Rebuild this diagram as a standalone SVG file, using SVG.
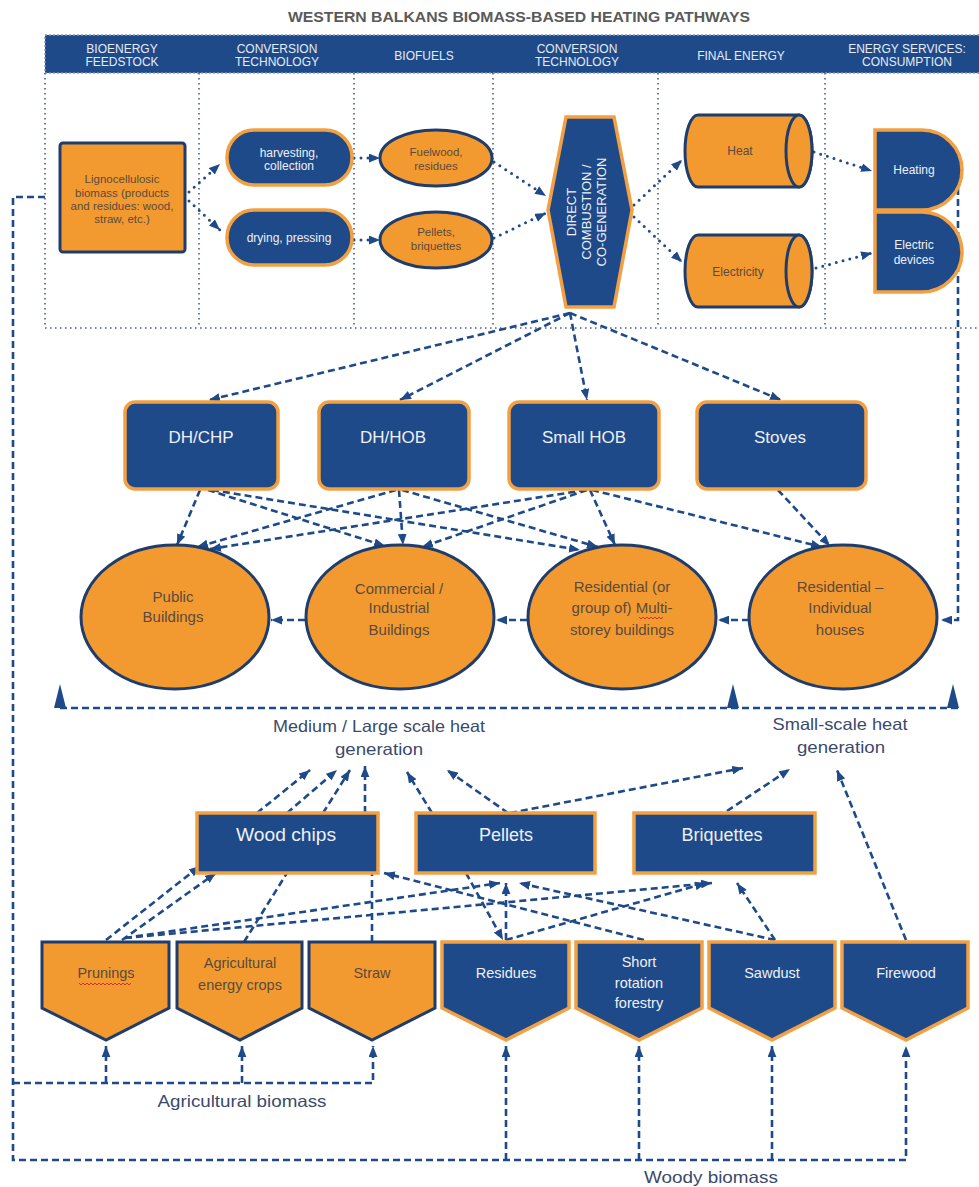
<svg xmlns="http://www.w3.org/2000/svg" width="979" height="1187" viewBox="0 0 979 1187">
<defs>
<style>
.t{font-family:'Liberation Sans',Arial,sans-serif;text-anchor:middle}
.w{fill:#eef0f5}
.d{fill:#5b4a3c}
.lab{fill:#3b4a6b;font-size:16.5px}
.hd{fill:#e6ebf3;font-size:12px}
.bn{fill:#1e4a8a;stroke:#f3a042;stroke-width:3.5}
.on{fill:#f29a30;stroke:#1f3d6c;stroke-width:3}
.dash{fill:none;stroke:#1e4a8a;stroke-width:2.6;stroke-dasharray:7 4}
.dot{fill:none;stroke:#1e4a8a;stroke-width:3;stroke-dasharray:0 7;stroke-linecap:round}
.frame{fill:none;stroke:#4f5f7c;stroke-width:1.6;stroke-dasharray:1.5 3.5}
.tri{fill:#1e4a8a}
</style>
<marker id="ah" viewBox="0 0 10 8" refX="10" refY="4" markerWidth="11" markerHeight="9" markerUnits="userSpaceOnUse" orient="auto"><path d="M0,0 L10,4 L0,8 z" fill="#1e4a8a"/></marker>
</defs>
<rect width="979" height="1187" fill="#ffffff"/>

<text class="t" x="519" y="22" font-weight="bold" font-size="15.5" fill="#5a5a5a" textLength="462" lengthAdjust="spacingAndGlyphs">WESTERN BALKANS BIOMASS-BASED HEATING PATHWAYS</text>

<g id="header">
<rect x="45" y="35" width="940" height="38" fill="#1e4a8a" stroke="#8798b8" stroke-width="1.5" stroke-dasharray="2 2"/>
<text class="t hd" x="122" y="53">BIOENERGY</text>
<text class="t hd" x="122" y="66">FEEDSTOCK</text>
<text class="t hd" x="277" y="53">CONVERSION</text>
<text class="t hd" x="277" y="66">TECHNOLOGY</text>
<text class="t hd" x="424" y="60">BIOFUELS</text>
<text class="t hd" x="577" y="53">CONVERSION</text>
<text class="t hd" x="577" y="66">TECHNOLOGY</text>
<text class="t hd" x="741" y="60">FINAL ENERGY</text>
<text class="t hd" x="907" y="53">ENERGY SERVICES:</text>
<text class="t hd" x="907" y="66">CONSUMPTION</text>
</g>

<g id="frame">
<path class="frame" d="M45,73 V328 M199,73 V328 M354,73 V328 M493,73 V328 M658,73 V328 M825,73 V328 M45,328 H979"/>
</g>

<g id="connectors">
<path class="dot" d="M189,192 L220,164" marker-end="url(#ah)"/>
<path class="dot" d="M189,201 L220,230" marker-end="url(#ah)"/>
<path class="dot" d="M354,158 L380,158" marker-end="url(#ah)"/>
<path class="dot" d="M354,240 L380,240" marker-end="url(#ah)"/>
<path class="dot" d="M494,162 L546,196" marker-end="url(#ah)"/>
<path class="dot" d="M494,238 L546,213" marker-end="url(#ah)"/>
<path class="dot" d="M634,205 L682,160" marker-end="url(#ah)"/>
<path class="dot" d="M634,217 L682,262" marker-end="url(#ah)"/>
<path class="dot" d="M814,152 L872,171" marker-end="url(#ah)"/>
<path class="dot" d="M816,268 L872,253" marker-end="url(#ah)"/>
<path class="dash" d="M45,197 H13 V1160 H906 V1046" marker-end="url(#ah)"/>
<path class="dash" d="M13,1083 H373 V1046" marker-end="url(#ah)"/>
<path class="dash" d="M106,1083 V1046" marker-end="url(#ah)"/>
<path class="dash" d="M242,1083 V1046" marker-end="url(#ah)"/>
<path class="dash" d="M506,1160 V1046" marker-end="url(#ah)"/>
<path class="dash" d="M639,1160 V1046" marker-end="url(#ah)"/>
<path class="dash" d="M772,1160 V1046" marker-end="url(#ah)"/>
<path class="dash" d="M958,177 V620 H941" marker-end="url(#ah)"/>
<path class="dash" d="M570,313 L209,400" marker-end="url(#ah)"/>
<path class="dash" d="M570,313 L400,400" marker-end="url(#ah)"/>
<path class="dash" d="M570,313 L587,400" marker-end="url(#ah)"/>
<path class="dash" d="M570,313 L781,400" marker-end="url(#ah)"/>
<path class="dash" d="M200,490 L177,545" marker-end="url(#ah)"/>
<path class="dash" d="M208,490 L385,546" marker-end="url(#ah)"/>
<path class="dash" d="M212,490 L580,550" marker-end="url(#ah)"/>
<path class="dash" d="M396,490 L197,547" marker-end="url(#ah)"/>
<path class="dash" d="M399,490 L403,545" marker-end="url(#ah)"/>
<path class="dash" d="M402,490 L598,547" marker-end="url(#ah)"/>
<path class="dash" d="M586,490 L210,549" marker-end="url(#ah)"/>
<path class="dash" d="M587,490 L422,547" marker-end="url(#ah)"/>
<path class="dash" d="M590,490 L615,545" marker-end="url(#ah)"/>
<path class="dash" d="M592,490 L822,547" marker-end="url(#ah)"/>
<path class="dash" d="M778,490 L830,546" marker-end="url(#ah)"/>
<path class="dash" d="M749,620 H718" marker-end="url(#ah)"/>
<path class="dash" d="M527,620 H496" marker-end="url(#ah)"/>
<path class="dash" d="M305,620 H271" marker-end="url(#ah)"/>
<path class="dash" d="M60,708 H958"/>
<path class="tri" d="M54,708 L60,684 L66,708 z M727,708 L733,684 L739,708 z M947,708 L953,684 L959,708 z"/>
<path class="dash" d="M257,813 L310,770" marker-end="url(#ah)"/>
<path class="dash" d="M287,813 L337,770" marker-end="url(#ah)"/>
<path class="dash" d="M323,813 L350,770" marker-end="url(#ah)"/>
<path class="dash" d="M365,813 L365,766" marker-end="url(#ah)"/>
<path class="dash" d="M432,813 L407,772" marker-end="url(#ah)"/>
<path class="dash" d="M508,813 L447,770" marker-end="url(#ah)"/>
<path class="dash" d="M510,813 L743,768" marker-end="url(#ah)"/>
<path class="dash" d="M727,811 L790,769" marker-end="url(#ah)"/>
<path class="dash" d="M906,940 L837,770" marker-end="url(#ah)"/>
<path class="dash" d="M106,940 L200,866" marker-end="url(#ah)"/>
<path class="dash" d="M122,940 L216,873" marker-end="url(#ah)"/>
<path class="dash" d="M125,938 L500,883" marker-end="url(#ah)"/>
<path class="dash" d="M125,938 L712,883" marker-end="url(#ah)"/>
<path class="dash" d="M244,942 L287,873"/>
<path class="dash" d="M372,942 L372,873"/>
<path class="dash" d="M644,940 L384,873" marker-end="url(#ah)"/>
<path class="dash" d="M506,940 L506,883" marker-end="url(#ah)"/>
<path class="dash" d="M466,873 L503,940" marker-end="url(#ah)"/>
<path class="dash" d="M506,940 L706,883" marker-end="url(#ah)"/>
<path class="dash" d="M775,940 L519,883" marker-end="url(#ah)"/>
<path class="dash" d="M775,940 L737,883" marker-end="url(#ah)"/>
</g>

<g id="n-ligno">
<rect class="on" x="60" y="143" width="125" height="109" rx="3"/>
<text class="t d" font-size="11.5"><tspan x="122" y="183">Lignocellulosic</tspan><tspan x="122" y="197">biomass (products</tspan><tspan x="122" y="210">and residues: wood,</tspan><tspan x="122" y="223">straw, etc.)</tspan></text>
</g>
<g id="n-harvest">
<rect class="bn" x="227" y="130" width="125" height="55" rx="27"/>
<text class="t w" font-size="12"><tspan x="289" y="157">harvesting,</tspan><tspan x="289" y="170">collection</tspan></text>
</g>
<g id="n-drying">
<rect class="bn" x="227" y="210" width="125" height="55" rx="27"/>
<text class="t w" font-size="12" x="289" y="242">drying, pressing</text>
</g>
<g id="n-fuelwood">
<ellipse class="on" cx="436" cy="158" rx="56" ry="28"/>
<text class="t d" font-size="11.5"><tspan x="436" y="156">Fuelwood,</tspan><tspan x="436" y="170">residues</tspan></text>
</g>
<g id="n-pelbri">
<ellipse class="on" cx="436" cy="240" rx="56" ry="28"/>
<text class="t d" font-size="11.5"><tspan x="436" y="236">Pellets,</tspan><tspan x="436" y="250">briquettes</tspan></text>
</g>
<g id="n-dc">
<path class="bn" d="M566,117 L614,117 L632,210 L614,307 L566,307 L548,210 Z"/>
<text class="t w" font-size="13" transform="translate(590,212) rotate(-90)"><tspan x="0" y="-14.5">DIRECT</tspan><tspan x="0" y="0.5">COMBUSTION /</tspan><tspan x="0" y="15.5">CO-GENERATION</tspan></text>
</g>
<g id="n-heat">
<path class="on" d="M698,115 H799 A13,36 0 0 1 799,187 H698 A13,36 0 0 1 698,115 Z"/>
<ellipse class="on" cx="799" cy="151" rx="13" ry="36"/>
<text class="t d" font-size="12" x="740" y="155">Heat</text>
</g>
<g id="n-elec">
<path class="on" d="M698,235 H799 A13,36 0 0 1 799,307 H698 A13,36 0 0 1 698,235 Z"/>
<ellipse class="on" cx="799" cy="271" rx="13" ry="36"/>
<text class="t d" font-size="12" x="738" y="276">Electricity</text>
</g>
<g id="n-heating">
<path class="bn" d="M875,130 H922 A40,40 0 0 1 922,210 H875 Z"/>
<text class="t w" font-size="12" x="914" y="174">Heating</text>
</g>
<g id="n-devices">
<path class="bn" d="M875,212 H922 A40,40 0 0 1 922,292 H875 Z"/>
<text class="t w" font-size="12"><tspan x="914" y="249">Electric</tspan><tspan x="914" y="264">devices</tspan></text>
</g>

<g id="n-dhchp"><rect class="bn" x="125" y="402" width="153" height="87" rx="10"/><text class="t w" font-size="17" x="201" y="443">DH/CHP</text></g>
<g id="n-dhhob"><rect class="bn" x="319" y="402" width="150" height="87" rx="10"/><text class="t w" font-size="17" x="393" y="443">DH/HOB</text></g>
<g id="n-smallhob"><rect class="bn" x="509" y="402" width="150" height="87" rx="10"/><text class="t w" font-size="17" x="584" y="443">Small HOB</text></g>
<g id="n-stoves"><rect class="bn" x="697" y="402" width="169" height="87" rx="10"/><text class="t w" font-size="17" x="780" y="443">Stoves</text></g>

<g id="n-public"><ellipse class="on" cx="175" cy="617" rx="94" ry="72"/><text class="t d" font-size="15"><tspan x="173" y="602">Public</tspan><tspan x="173" y="622">Buildings</tspan></text></g>
<g id="n-commercial"><ellipse class="on" cx="400" cy="617" rx="94" ry="72"/><text class="t d" font-size="15"><tspan x="399" y="594">Commercial /</tspan><tspan x="399" y="613">Industrial</tspan><tspan x="399" y="635">Buildings</tspan></text></g>
<g id="n-resmulti"><ellipse class="on" cx="622" cy="617" rx="94" ry="72"/><text class="t d" font-size="15"><tspan x="622" y="592">Residential (or</tspan><tspan x="622" y="613">group of) Multi-</tspan><tspan x="622" y="635">storey buildings</tspan></text></g>
<g id="n-resind"><ellipse class="on" cx="843" cy="617" rx="94" ry="72"/><text class="t d" font-size="15"><tspan x="840" y="592">Residential –</tspan><tspan x="840" y="613">Individual</tspan><tspan x="840" y="635">houses</tspan></text></g>

<g id="labels">
<text class="t lab" x="379" y="732" textLength="212" lengthAdjust="spacingAndGlyphs">Medium / Large scale heat</text>
<text class="t lab" x="379" y="755" textLength="88" lengthAdjust="spacingAndGlyphs">generation</text>
<text class="t lab" x="840" y="730" textLength="135" lengthAdjust="spacingAndGlyphs">Small-scale heat</text>
<text class="t lab" x="841" y="753" textLength="88" lengthAdjust="spacingAndGlyphs">generation</text>
<text class="t lab" x="242" y="1107" textLength="169" lengthAdjust="spacingAndGlyphs">Agricultural biomass</text>
<text class="t lab" x="711" y="1183" textLength="134" lengthAdjust="spacingAndGlyphs">Woody biomass</text>
</g>

<g id="n-woodchips"><rect class="bn" x="197" y="813" width="181" height="60"/><text class="t w" font-size="18" x="286" y="841" textLength="100" lengthAdjust="spacingAndGlyphs">Wood chips</text></g>
<g id="n-pellets"><rect class="bn" x="416" y="813" width="179" height="60"/><text class="t w" font-size="18" x="506" y="841">Pellets</text></g>
<g id="n-briquettes"><rect class="bn" x="634" y="813" width="181" height="60"/><text class="t w" font-size="18" x="722" y="841">Briquettes</text></g>

<g id="n-prunings"><path class="on" d="M42,942 H169 V1008 L106,1040 L42,1008 Z"/><text class="t d" font-size="14.5" x="106" y="978">Prunings</text></g>
<g id="n-aec"><path class="on" d="M177,942 H302 V1008 L240,1040 L177,1008 Z"/><text class="t d" font-size="14.5"><tspan x="240" y="968">Agricultural</tspan><tspan x="240" y="990">energy crops</tspan></text></g>
<g id="n-straw"><path class="on" d="M309,942 H435 V1008 L372,1040 L309,1008 Z"/><text class="t d" font-size="14.5" x="372" y="978">Straw</text></g>
<g id="n-residues"><path class="bn" d="M442,942 H569 V1008 L506,1040 L442,1008 Z"/><text class="t w" font-size="14.5" x="506" y="978">Residues</text></g>
<g id="n-srf"><path class="bn" d="M576,942 H702 V1008 L639,1040 L576,1008 Z"/><text class="t w" font-size="14.5"><tspan x="639" y="967">Short</tspan><tspan x="639" y="988">rotation</tspan><tspan x="639" y="1008">forestry</tspan></text></g>
<g id="n-sawdust"><path class="bn" d="M709,942 H835 V1008 L772,1040 L709,1008 Z"/><text class="t w" font-size="14.5" x="772" y="978">Sawdust</text></g>
<g id="n-firewood"><path class="bn" d="M842,942 H968 V1008 L906,1040 L842,1008 Z"/><text class="t w" font-size="14.5" x="906" y="978">Firewood</text></g>

<g id="squiggles" fill="none" stroke="#d03030" stroke-width="1">
<path d="M79,983 l2,2 l2,-2 l2,2 l2,-2 l2,2 l2,-2 l2,2 l2,-2 l2,2 l2,-2 l2,2 l2,-2 l2,2 l2,-2 l2,2 l2,-2 l2,2 l2,-2 l2,2 l2,-2 l2,2 l2,-2 l2,2 l2,-2 l2,2 l2,-2"/>
<path d="M639,617 l2,2 l2,-2 l2,2 l2,-2 l2,2 l2,-2 l2,2 l2,-2 l2,2 l2,-2 l2,2 l2,-2"/>
</g>
</svg>
